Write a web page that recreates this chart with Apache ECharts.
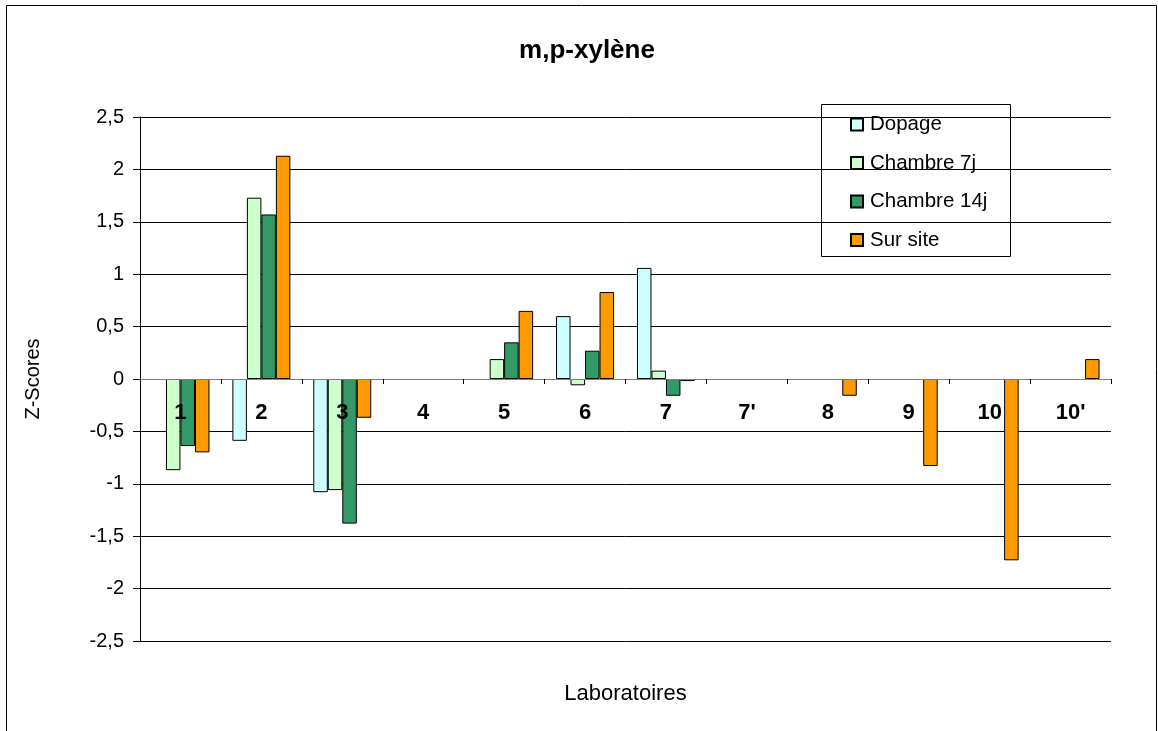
<!DOCTYPE html>
<html>
<head>
<meta charset="utf-8">
<script src="https://cdn.jsdelivr.net/npm/echarts@6/dist/echarts.min.js"></script>
<style>
html,body{margin:0;padding:0;background:#fff;}
#chart{width:1158px;height:731px;}
</style>
</head>
<body>
<div id="chart"></div>
<script>
const categories = ['1','2','3','4','5','6','7',"7'",'8','9','10',"10'"];
const dopage     = [null, -0.59, -1.08, null, null, 0.60, 1.06, null, null, null, null, null];
const chambre7j  = [-0.87, 1.73, -1.06, null, 0.19, -0.06, 0.08, null, null, null, null, null];
const chambre14j = [-0.64, 1.57, -1.38, null, 0.35, 0.27, -0.16, null, null, null, null, null];
const surSite    = [-0.70, 2.13, -0.37, null, 0.65, 0.83, -0.02, null, -0.16, -0.83, -1.73, 0.19];
const seriesNames = ['Dopage', 'Chambre 7j', 'Chambre 14j', 'Sur site'];
const colors = ['#CCFFFF', '#CCFFCC', '#339966', '#FF9900'];

const FONT = 'Arial, "Liberation Sans", sans-serif';
const chart = echarts.init(document.getElementById('chart'), null, {renderer: 'canvas'});

function bar(name, data, color) {
  return {
    name: name,
    type: 'bar',
    data: data,
    barWidth: 14.5,
    barGap: '0%',
    itemStyle: {color: color, borderColor: '#000', borderWidth: 1},
    emphasis: {disabled: true}
  };
}

chart.setOption({
  animation: false,
  backgroundColor: '#fff',
  title: {
    text: 'm,p-xylène',
    left: 582,
    textAlign: 'center',
    top: 33,
    textStyle: {fontFamily: FONT, fontWeight: 'bold', fontSize: 26, color: '#000'}
  },
  legend: {
    orient: 'vertical',
    left: 850,
    top: 114,
    itemWidth: 12,
    itemHeight: 12,
    itemGap: 17.5,
    icon: 'rect',
    padding: 0,
    textStyle: {fontFamily: FONT, fontSize: 20.5, color: '#000', lineHeight: 20, padding: [0, 0, 0, 2]},
    data: seriesNames
  },
  grid: {left: 140, right: 47, top: 117, bottom: 90, containLabel: false, outerBoundsMode: 'none'},
  xAxis: {
    type: 'category',
    data: categories,
    z: 10,
    name: 'Laboratoires',
    nameLocation: 'middle',
    nameGap: 42,
    nameTextStyle: {fontFamily: FONT, fontSize: 22, color: '#000'},
    axisLine: {onZero: true, lineStyle: {color: '#808080', width: 1}},
    axisTick: {show: true, alignWithLabel: false, length: 5, lineStyle: {color: '#000'}},
    axisLabel: {interval: 0, margin: -239, fontFamily: FONT, fontSize: 22, fontWeight: 'bold', color: '#000'},
    splitLine: {show: false}
  },
  yAxis: {
    type: 'value',
    min: -2.5,
    max: 2.5,
    interval: 0.5,
    name: 'Z-Scores',
    nameLocation: 'middle',
    nameGap: 97,
    nameRotate: 90,
    nameTextStyle: {fontFamily: FONT, fontSize: 20, color: '#000'},
    axisLine: {show: true, lineStyle: {color: '#000', width: 1}},
    axisTick: {show: true, length: 7, lineStyle: {color: '#000'}},
    axisLabel: {
      margin: 16,
      fontFamily: FONT,
      fontSize: 20,
      color: '#000',
      formatter: v => String(v).replace('.', ',')
    },
    splitLine: {show: true, lineStyle: {color: '#000', width: 1}}
  },
  graphic: [
    {type: 'rect', shape: {x: 6.5, y: 5.5, width: 1150, height: 740},
     style: {fill: 'none', stroke: '#000', lineWidth: 1}, silent: true, z: 100},
    {type: 'rect', shape: {x: 821.5, y: 104.5, width: 189, height: 152},
     style: {fill: '#fff', stroke: '#000', lineWidth: 1}, silent: true, z: 0, zlevel: 0}
  ],
  series: [
    bar(seriesNames[0], dopage, colors[0]),
    bar(seriesNames[1], chambre7j, colors[1]),
    bar(seriesNames[2], chambre14j, colors[2]),
    bar(seriesNames[3], surSite, colors[3])
  ]
});
</script>
</body>
</html>
